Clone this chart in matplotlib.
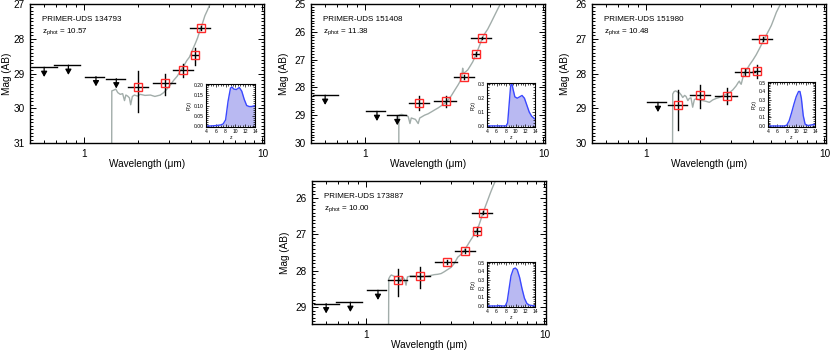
import numpy as np
import matplotlib
matplotlib.use('Agg')
import matplotlib.pyplot as plt
from matplotlib.ticker import FixedLocator, MultipleLocator, NullFormatter

plt.rcParams['font.family'] = ['Liberation Sans', 'DejaVu Sans']
plt.rcParams['mathtext.fontset'] = 'custom'
plt.rcParams['mathtext.rm'] = 'Liberation Sans'
plt.rcParams['mathtext.default'] = 'regular'

# ---------------- filters ----------------
filt_names = ['F606W', 'F814W', 'F115W', 'F150W', 'F200W', 'F277W', 'F356W', 'F410M', 'F444W']
filt_wave = [0.60, 0.82, 1.17, 1.52, 2.02, 2.83, 3.60, 4.20, 4.50]
filt_lo = [0.51, 0.68, 1.02, 1.33, 1.76, 2.45, 3.17, 3.98, 3.95]
filt_hi = [0.71, 0.95, 1.30, 1.70, 2.28, 3.22, 4.06, 4.38, 5.10]

# ---------------- panel 1 ----------------
p1_id = 'PRIMER-UDS 134793'
p1_z = '10.57'
p1_lim_filt = ['F606W', 'F814W', 'F115W', 'F150W']
p1_lim_mag = [28.82, 28.76, 29.09, 29.15]
p1_det_filt = ['F200W', 'F277W', 'F356W', 'F410M', 'F444W']
p1_det_mag = [29.38, 29.28, 28.90, 28.47, 27.69]
p1_err_bright = [0.44, 0.27, 0.17, 0.19, 0.07]
p1_err_faint = [0.73, 0.33, 0.21, 0.28, 0.07]
p1_mod_wave = [1.43, 1.435, 1.47, 1.51, 1.55, 1.60, 1.65, 1.69, 1.72, 1.76, 1.80, 1.83, 1.87, 1.92,
               2.00, 2.07, 2.20, 2.36, 2.50, 2.68, 2.80, 2.92, 3.05, 3.18, 3.33, 3.46, 3.61, 3.77,
               3.90, 4.02, 4.19, 4.33, 4.47, 4.62, 4.76, 4.92, 5.08, 5.30]
p1_mod_mag = [33.0, 29.50, 29.48, 29.45, 29.55, 29.60, 29.58, 29.78, 29.62, 29.65, 29.70, 29.90, 29.66, 29.62,
              29.65, 29.60, 29.63, 29.62, 29.66, 29.62, 29.55, 29.45, 29.33, 29.20, 29.08, 28.94, 28.80, 28.63,
              28.53, 28.37, 28.16, 27.98, 27.76, 27.55, 27.34, 27.18, 27.01, 26.70]
p1_pz_z = [4, 5, 6, 7, 7.5, 8, 8.5, 9, 9.3, 9.7, 10.2, 10.8, 11.3, 11.8, 12.3, 12.8, 13.3, 14]
p1_pz_p = [0, 0, 0.002, 0.005, 0.01, 0.03, 0.12, 0.185, 0.19, 0.18, 0.178, 0.188, 0.17, 0.13, 0.10, 0.095, 0.095, 0.10]

# ---------------- panel 2 ----------------
p2_id = 'PRIMER-UDS 151408'
p2_z = '11.38'
p2_lim_filt = ['F606W', 'F115W', 'F150W']
p2_lim_mag = [28.28, 28.86, 29.01]
p2_det_filt = ['F200W', 'F277W', 'F356W', 'F410M', 'F444W']
p2_det_mag = [28.56, 28.48, 27.64, 26.81, 26.21]
p2_err_bright = [0.25, 0.17, 0.07, 0.07, 0.04]
p2_err_faint = [0.27, 0.21, 0.07, 0.07, 0.04]
p2_mod_wave = [1.55, 1.551, 1.58, 1.61, 1.66, 1.71, 1.75, 1.79, 1.82, 1.86, 1.92, 1.99, 2.03, 2.07,
               2.16, 2.26, 2.36, 2.46, 2.57, 2.68, 2.80, 2.92, 3.05, 3.18, 3.32, 3.46, 3.50, 3.53,
               3.56, 3.65, 3.77, 3.90, 4.02, 4.15, 4.28, 4.42, 4.56, 4.71, 4.87, 5.08, 5.30, 5.53, 5.77]
p2_mod_mag = [31.0, 29.00, 28.98, 28.97, 29.00, 29.01, 29.05, 29.30, 29.10, 29.12, 29.15, 29.30, 29.10, 29.07,
              29.00, 28.95, 28.88, 28.81, 28.74, 28.66, 28.57, 28.46, 28.30, 28.11, 27.92, 27.72, 27.55, 27.31,
              27.49, 27.45, 27.37, 27.22, 27.08, 26.88, 26.67, 26.44, 26.20, 26.05, 25.91, 25.68, 25.44, 25.20, 24.97]
p2_pz_z = [4, 6, 8, 8.3, 8.6, 8.9, 9.1, 9.4, 9.8, 10.3, 10.8, 11.3, 11.8, 12.3, 12.8, 13.3, 14]
p2_pz_p = [0, 0, 0, 0.02, 0.15, 0.28, 0.32, 0.27, 0.21, 0.20, 0.21, 0.22, 0.20, 0.15, 0.10, 0.07, 0.05]

# ---------------- panel 3 ----------------
p3_id = 'PRIMER-UDS 151980'
p3_z = '10.48'
p3_lim_filt = ['F115W']
p3_lim_mag = [28.83]
p3_det_filt = ['F150W', 'F200W', 'F277W', 'F356W', 'F410M', 'F444W']
p3_det_mag = [28.90, 28.62, 28.64, 27.95, 27.94, 27.01]
p3_err_bright = [0.42, 0.29, 0.22, 0.08, 0.19, 0.06]
p3_err_faint = [0.73, 0.37, 0.24, 0.08, 0.20, 0.06]
p3_mod_wave = [1.41, 1.415, 1.44, 1.47, 1.50, 1.54, 1.58, 1.61, 1.65, 1.68, 1.72, 1.75, 1.79, 1.83,
               1.87, 1.91, 2.00, 2.08, 2.17, 2.27, 2.37, 2.47, 2.58, 2.70, 2.82, 2.94, 3.07, 3.20,
               3.30, 3.34, 3.38, 3.42, 3.50, 3.57, 3.69, 3.81, 3.98, 4.15, 4.29, 4.43, 4.57, 4.72,
               4.88, 5.04, 5.21, 5.38, 5.55, 5.73]
p3_mod_mag = [31.0, 28.59, 28.52, 28.50, 28.53, 28.55, 28.62, 28.69, 28.63, 28.66, 28.78, 28.72, 28.70, 28.97,
              28.75, 28.73, 28.76, 28.78, 28.80, 28.83, 28.76, 28.72, 28.69, 28.64, 28.60, 28.55, 28.47, 28.36,
              28.25, 28.22, 28.28, 28.31, 28.10, 27.98, 27.87, 27.75, 27.61, 27.46, 27.32, 27.18, 27.04, 26.90,
              26.76, 26.62, 26.43, 26.24, 26.10, 25.96]
p3_pz_z = [4, 7.5, 8, 8.5, 9, 9.5, 10, 10.5, 10.8, 11.1, 11.5, 11.9, 12.5, 13, 14]
p3_pz_p = [0, 0, 0.01, 0.06, 0.15, 0.25, 0.34, 0.40, 0.40, 0.32, 0.12, 0.02, 0.005, 0.01, 0.02]

# ---------------- panel 4 ----------------
p4_id = 'PRIMER-UDS 173887'
p4_z = '10.00'
p4_lim_filt = ['F606W', 'F814W', 'F115W']
p4_lim_mag = [28.91, 28.87, 28.54]
p4_det_filt = ['F150W', 'F200W', 'F277W', 'F356W', 'F410M', 'F444W']
p4_det_mag = [28.26, 28.15, 27.77, 27.45, 26.92, 26.40]
p4_err_bright = [0.30, 0.24, 0.06, 0.05, 0.13, 0.05]
p4_err_faint = [0.45, 0.32, 0.06, 0.05, 0.13, 0.05]
p4_mod_wave = [1.34, 1.345, 1.37, 1.39, 1.42, 1.46, 1.49, 1.51, 1.54, 1.56, 1.58, 1.61, 1.65, 1.68,
               1.71, 1.78, 1.87, 1.95, 2.04, 2.13, 2.22, 2.32, 2.42, 2.53, 2.64, 2.75, 2.87, 3.00,
               3.13, 3.27, 3.38, 3.49, 3.60, 3.72, 3.85, 3.98, 4.11, 4.24, 4.38, 4.52, 4.67, 4.82,
               4.98, 5.15, 5.30, 5.45]
p4_mod_mag = [30.0, 28.22, 28.15, 28.12, 28.14, 28.17, 28.16, 28.15, 28.20, 28.31, 28.22, 28.17, 28.25, 28.40,
              28.17, 28.15, 28.15, 28.16, 28.17, 28.16, 28.15, 28.13, 28.11, 28.10, 28.08, 28.03, 27.97, 27.91,
              27.80, 27.63, 27.57, 27.51, 27.40, 27.29, 27.17, 27.06, 26.95, 26.83, 26.63, 26.42, 26.23, 26.05,
              25.86, 25.68, 25.54, 25.40]
p4_pz_z = [4, 6, 6.5, 7, 7.8, 8.2, 8.6, 9, 9.5, 9.9, 10.3, 10.8, 11.3, 11.8, 12.3, 12.8, 14]
p4_pz_p = [0, 0, 0.005, 0, 0, 0.05, 0.2, 0.35, 0.43, 0.44, 0.42, 0.33, 0.2, 0.09, 0.03, 0.01, 0]

# ---------------- drawing ----------------
W, H = 831, 352
fig = plt.figure(figsize=(W / 100, H / 100), dpi=100)

MOD_COLOR = '#a2adaa'
SQ_COLOR = '#ff2a2a'
PZ_LINE = '#3a48ff'
PZ_FILL = '#b9b9f2'


def fidx(name):
    return filt_names.index(name)


def panel(rect, inset_rect, ylim, pz_ylim, pz_step, pz_fmt, sid, zphot,
          lim_f, lim_m, det_f, det_m, eb, ef, mw, mm, pz_z, pz_p, ylab_x, xlab_y):
    ax = fig.add_axes(rect)
    ax.set_xscale('log')
    ax.set_xlim(0.5, 10.2)
    ax.set_ylim(ylim[0], ylim[1])
    ax.plot(mw, mm, color=MOD_COLOR, lw=1.0, zorder=2)

    # upper limits
    for f, m in zip(lim_f, lim_m):
        i = fidx(f)
        ax.plot([filt_lo[i], filt_hi[i]], [m, m], color='k', lw=1.0, zorder=3)
        ax.annotate('', xy=(filt_wave[i], m), xycoords='data',
                    xytext=(0, -7), textcoords='offset points',
                    arrowprops=dict(arrowstyle='<|-,head_length=0.8,head_width=0.45',
                                    mutation_scale=4, color='k', lw=0.9,
                                    shrinkA=0, shrinkB=0), zorder=3)
    # detections
    for f, m, b, fa in zip(det_f, det_m, eb, ef):
        i = fidx(f)
        ax.plot([filt_lo[i], filt_hi[i]], [m, m], color='k', lw=1.0, zorder=3)
        ax.plot([filt_wave[i], filt_wave[i]], [m - b, m + fa], color='k', lw=1.0, zorder=3)
        ax.plot([filt_wave[i]], [m], marker='s', ms=5.2, mfc='none', mec=SQ_COLOR,
                mew=1.0, zorder=4, linestyle='none')

    ax.xaxis.set_major_locator(FixedLocator([1, 10]))
    ax.xaxis.set_minor_locator(FixedLocator([0.5, 0.6, 0.7, 0.8, 0.9, 2, 3, 4, 5, 6, 7, 8, 9]))
    ax.xaxis.set_minor_formatter(NullFormatter())
    ax.set_xticklabels(['1', '10'])
    ax.yaxis.set_major_locator(MultipleLocator(1))
    ax.yaxis.set_minor_locator(MultipleLocator(0.1))
    ax.tick_params(which='both', direction='in', top=True, right=True, labelsize=7.2, width=0.7, pad=4)
    ax.tick_params(which='major', length=4.5)
    ax.tick_params(which='minor', length=2.2)
    for s in ax.spines.values():
        s.set_linewidth(1.0)
    ax.set_xlabel('Wavelength (\u03bcm)', fontsize=7.2)
    ax.set_ylabel('Mag (AB)', fontsize=7.2)
    ax.xaxis.set_label_coords(0.5, xlab_y)
    ax.yaxis.set_label_coords(ylab_x, 0.5)
    ax.text(0.05, 0.89, sid, transform=ax.transAxes, fontsize=5.8, va='center', ha='left')
    ax.text(0.05, 0.805, 'z$_{phot}$ = ' + zphot, transform=ax.transAxes, fontsize=5.8,
            va='center', ha='left')

    ins = fig.add_axes(inset_rect)
    ins.fill_between(pz_z, 0, pz_p, color=PZ_FILL, lw=0, zorder=1)
    ins.plot(pz_z, pz_p, color=PZ_LINE, lw=1.0, zorder=2)
    ins.set_xlim(4, 14)
    ins.set_ylim(pz_ylim[0], pz_ylim[1])
    ins.xaxis.set_major_locator(FixedLocator([4, 6, 8, 10, 12, 14]))
    ins.xaxis.set_minor_locator(MultipleLocator(0.5))
    ins.yaxis.set_major_locator(MultipleLocator(pz_step))
    ins.yaxis.set_minor_locator(MultipleLocator(pz_step / 5))
    ins.yaxis.set_major_formatter(plt.FormatStrFormatter(pz_fmt))
    ins.tick_params(which='both', direction='in', top=True, right=True, labelsize=3.6,
                    width=0.5, pad=1.5)
    ins.tick_params(which='major', length=2.2)
    ins.tick_params(which='minor', length=1.1)
    for s in ins.spines.values():
        s.set_linewidth(0.8)
    ins.set_xlabel('z', fontsize=3.6, labelpad=1)
    ins.set_ylabel('P(z)', fontsize=3.6, labelpad=1.5)
    return ax, ins


def rect_px(x0, x1, y0, y1):
    return [x0 / W, 1 - y1 / H, (x1 - x0) / W, (y1 - y0) / H]


panel(rect_px(30, 264, 4, 143), rect_px(206, 255, 84, 127), (31, 27), (-0.005, 0.205), 0.05, '%.2f',
      p1_id, p1_z, p1_lim_filt, p1_lim_mag, p1_det_filt, p1_det_mag, p1_err_bright, p1_err_faint,
      p1_mod_wave, p1_mod_mag, p1_pz_z, p1_pz_p, -0.077, -0.115)
panel(rect_px(311, 545, 4, 143), rect_px(487, 535, 83, 127), (30, 25), (-0.008, 0.31), 0.1, '%.1f',
      p2_id, p2_z, p2_lim_filt, p2_lim_mag, p2_det_filt, p2_det_mag, p2_err_bright, p2_err_faint,
      p2_mod_wave, p2_mod_mag, p2_pz_z, p2_pz_p, -0.092, -0.115)
panel(rect_px(592, 826, 4, 143), rect_px(768, 815, 82, 127), (30, 26), (-0.012, 0.51), 0.1, '%.1f',
      p3_id, p3_z, p3_lim_filt, p3_lim_mag, p3_det_filt, p3_det_mag, p3_err_bright, p3_err_faint,
      p3_mod_wave, p3_mod_mag, p3_pz_z, p3_pz_p, -0.096, -0.115)
panel(rect_px(312, 546, 181, 324), rect_px(487, 535, 262, 307), (29.47, 25.53), (-0.012, 0.51), 0.1, '%.1f',
      p4_id, p4_z, p4_lim_filt, p4_lim_mag, p4_det_filt, p4_det_mag, p4_err_bright, p4_err_faint,
      p4_mod_wave, p4_mod_mag, p4_pz_z, p4_pz_p, -0.096, -0.11)

fig.savefig('out.png', dpi=100)
